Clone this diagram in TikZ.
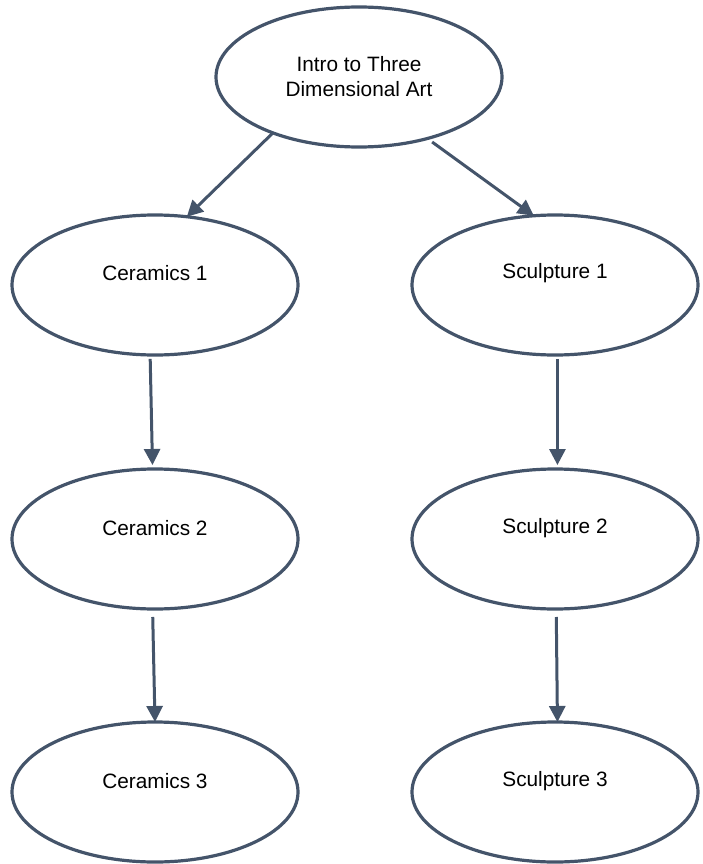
\documentclass[tikz,border=0pt]{standalone}
\usepackage{fontspec}
\setmainfont{Liberation Sans}
\usetikzlibrary{shapes.geometric,arrows.meta}
\definecolor{slate}{HTML}{44546A}
\begin{document}
\begin{tikzpicture}[x=1pt,y=-1pt,
  oval/.style={draw=slate, line width=3.2pt, ellipse, minimum width=286pt, minimum height=140pt, inner sep=0pt, outer sep=0pt, fill=white},
  lbl/.style={font=\fontsize{20.8}{25}\selectfont, text=black, align=center, inner sep=0pt},
  conn/.style={draw=slate, line width=3pt, -{Triangle[length=16pt,width=16pt]}}]
\useasboundingbox (0,0) rectangle (703,864);
\node[oval] (top) at (359,77) {};
\node[oval] (c1) at (155,285) {};
\node[oval] (s1) at (555,285) {};
\node[oval] (c2) at (155,539) {};
\node[oval] (s2) at (555,539) {};
\node[oval] (c3) at (155,792) {};
\node[oval] (s3) at (555,792) {};
\node[lbl] (toptext) at (359,77) {Intro to Three\\Dimensional Art};
\node[lbl] (c1text) at (155,273) {Ceramics 1};
\node[lbl] (s1text) at (555,273) {Sculpture 1};
\node[lbl] (c2text) at (155,528) {Ceramics 2};
\node[lbl] (s2text) at (555,528) {Sculpture 2};
\node[lbl] (c3text) at (155,781) {Ceramics 3};
\node[lbl] (s3text) at (555,781) {Sculpture 3};
\draw[conn] (top.213) -- (c1.65);
\draw[conn, shorten <=6pt] (top.318) -- (s1.107);
\draw[conn, shorten <=4pt, shorten >=4pt] (c1.266) -- (c2.92);
\draw[conn, shorten <=4pt, shorten >=4pt] (s1.272) -- (s2.88);
\draw[conn, shorten <=8pt] (c2.268) -- (c3.90);
\draw[conn, shorten <=8pt] (s2.271) -- (s3.88);
\end{tikzpicture}
\end{document}
